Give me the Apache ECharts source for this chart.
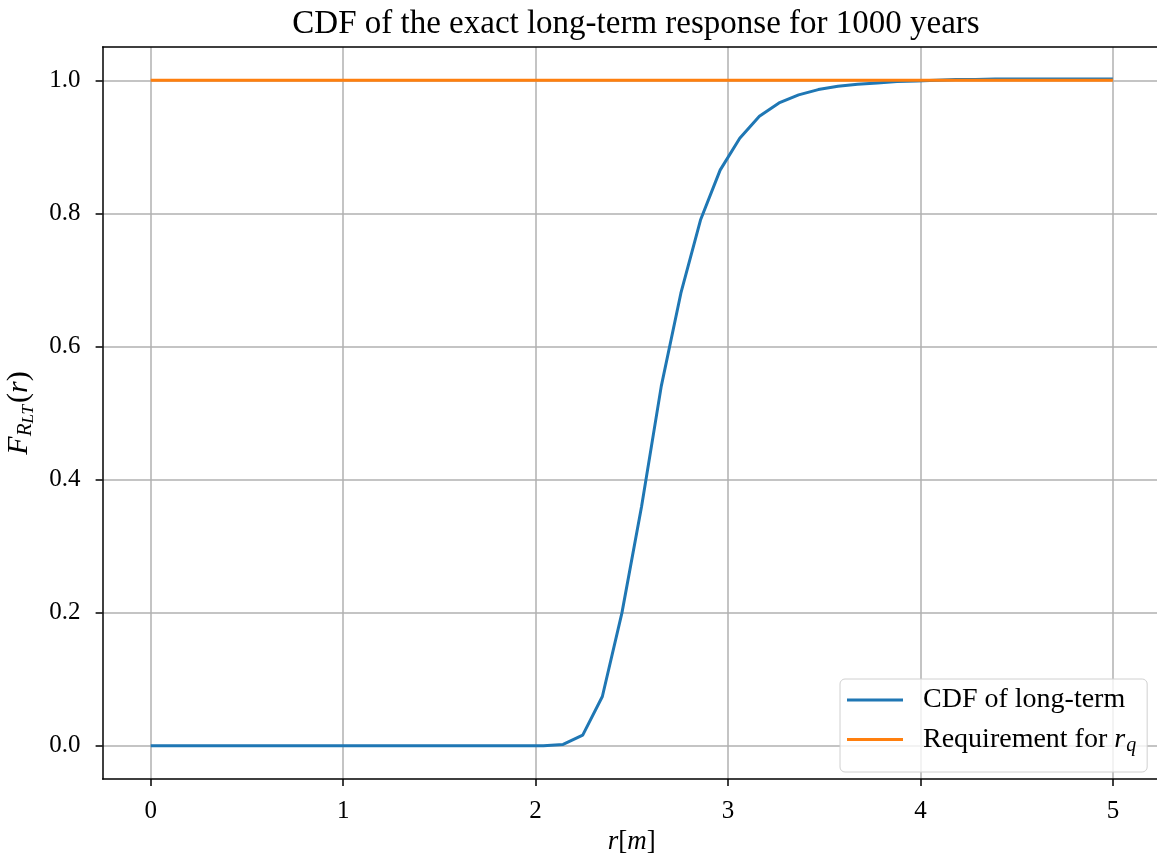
<!DOCTYPE html>
<html>
<head>
<meta charset="utf-8">
<title>CDF long-term</title>
<script src="https://cdn.jsdelivr.net/npm/echarts@6/dist/echarts.min.js"></script>
<style>
  html, body { margin: 0; padding: 0; background: #fff; }
  #cdfChart { width: 1157px; height: 859px; }
</style>
</head>
<body>
<div id="cdfChart"></div>
<script>
  // sample points r (m)
  let rValues = [0, 0.102, 0.204, 0.306, 0.408, 0.510, 0.612, 0.714, 0.816, 0.918,
    1.020, 1.122, 1.224, 1.327, 1.429, 1.531, 1.633, 1.735, 1.837, 1.939,
    2.041, 2.143, 2.245, 2.347, 2.449, 2.551, 2.653, 2.755, 2.857, 2.959,
    3.061, 3.163, 3.265, 3.367, 3.469, 3.571, 3.673, 3.776, 3.878, 3.980,
    4.082, 4.184, 4.286, 4.388, 4.490, 4.592, 4.694, 4.796, 4.898, 5.0];
  // CDF of the long-term response
  let cdfValues = [0, 0, 0, 0, 0, 0, 0, 0, 0, 0,
    0, 0, 0, 0, 0, 0, 0, 0, 0, 0,
    0, 0.002, 0.016, 0.074, 0.200, 0.360, 0.540, 0.680, 0.790, 0.865,
    0.913, 0.946, 0.966, 0.978, 0.986, 0.991, 0.994, 0.996, 0.998, 0.999,
    1.000, 1.001, 1.001, 1.002, 1.002, 1.002, 1.002, 1.002, 1.002, 1.002];
  // requirement line
  let reqX = [0, 5];
  let reqY = [1.0, 1.0];

  let xTicks = [0, 1, 2, 3, 4, 5];
  let yTicks = [0.0, 0.2, 0.4, 0.6, 0.8, 1.0];

  let serif = 'Liberation Serif';

  let cdfData = rValues.map((r, i) => [r, cdfValues[i]]);
  let reqData = reqX.map((r, i) => [r, reqY[i]]);

  let chart = echarts.init(document.getElementById('cdfChart'), null, {renderer: 'canvas'});
  chart.setOption({
    animation: false,
    backgroundColor: '#fff',
    title: {
      text: 'CDF of the exact long-term response for 1000 years',
      left: 631,
      top: 3,
      textAlign: 'center',
      textStyle: {fontFamily: serif, fontWeight: 'normal', fontSize: 33, color: '#000'}
    },
    grid: {left: 102.6, right: -4, top: 47, bottom: 80, containLabel: false, outerBoundsMode: 'none'},
    legend: {
      orient: 'vertical',
      left: 840,
      top: 679,
      icon: 'rect',
      itemWidth: 56,
      itemHeight: 3,
      itemGap: 9,
      padding: [7, 11, 16, 7],
      backgroundColor: 'rgba(255,255,255,0.8)',
      borderColor: '#d0d0d0',
      borderWidth: 1,
      borderRadius: 5,
      data: ['CDF of long-term', 'Requirement for r_q'],
      formatter: function (name) {
        if (name === 'Requirement for r_q') {
          return '{n|Requirement for }{i|r}{s|q}';
        }
        return '{n|' + name + '}';
      },
      textStyle: {
        fontFamily: serif, fontSize: 28, color: '#000', padding: [0, 0, 0, 15],
        rich: {
          n: {fontFamily: serif, fontSize: 28, lineHeight: 24, color: '#000'},
          i: {fontFamily: serif, fontSize: 28, fontStyle: 'italic', lineHeight: 24, color: '#000'},
          s: {fontFamily: serif, fontSize: 20, fontStyle: 'italic', lineHeight: 24, color: '#000', padding: [13, 0, 0, 1]}
        }
      }
    },
    xAxis: [{
      type: 'value',
      min: -0.25,
      max: 5.25,
      name: '{i|r}{n|[}{i|m}{n|]}',
      nameLocation: 'middle',
      nameGap: 48,
      nameTextStyle: {
        rich: {
          i: {fontFamily: serif, fontSize: 27, fontStyle: 'italic', color: '#000'},
          n: {fontFamily: serif, fontSize: 27, color: '#000'}
        }
      },
      axisLine: {show: true, onZero: false, lineStyle: {color: '#000', width: 1.5}},
      axisTick: {show: true, inside: false, length: 7, customValues: xTicks, lineStyle: {color: '#000', width: 1.5}},
      axisLabel: {
        customValues: xTicks, margin: 20, color: '#000',
        fontFamily: serif, fontSize: 25,
        formatter: function (v) { return String(v); }
      },
      splitLine: {show: true, lineStyle: {color: '#b0b0b0', width: 1.5}}
    }, {
      // top spine
      type: 'value',
      position: 'top',
      min: -0.25,
      max: 5.25,
      axisLine: {show: true, onZero: false, lineStyle: {color: '#000', width: 1.5}},
      axisTick: {show: false},
      axisLabel: {show: false},
      splitLine: {show: false}
    }],
    yAxis: {
      type: 'value',
      min: -0.05,
      max: 1.05,
      name: '{f|F}{s|R}{ss|LT}{n|(}{f|r}{n|)}',
      nameLocation: 'middle',
      nameGap: 66,
      nameRotate: 90,
      nameTextStyle: {
        rich: {
          f: {fontFamily: serif, fontSize: 30, fontStyle: 'italic', color: '#000', lineHeight: 34},
          n: {fontFamily: serif, fontSize: 30, color: '#000', lineHeight: 34},
          s: {fontFamily: serif, fontSize: 21, fontStyle: 'italic', color: '#000', lineHeight: 34, padding: [12, 0, 0, 0]},
          ss: {fontFamily: serif, fontSize: 17, fontStyle: 'italic', color: '#000', lineHeight: 34, padding: [18, 2, 0, 0]}
        }
      },
      axisLine: {show: true, onZero: false, lineStyle: {color: '#000', width: 1.5}},
      axisTick: {show: true, inside: false, length: 7, customValues: yTicks, lineStyle: {color: '#000', width: 1.5}},
      axisLabel: {
        customValues: yTicks, margin: 22, color: '#000',
        fontFamily: serif, fontSize: 25,
        formatter: function (v) { return v.toFixed(1); }
      },
      splitLine: {show: true, lineStyle: {color: '#b0b0b0', width: 1.5}}
    },
    series: [
      {
        name: 'CDF of long-term',
        type: 'line',
        data: cdfData,
        symbol: 'none',
        color: '#1f77b4',
        lineStyle: {width: 3, color: '#1f77b4'},
        z: 2
      },
      {
        name: 'Requirement for r_q',
        type: 'line',
        data: reqData,
        symbol: 'none',
        color: '#ff7f0e',
        lineStyle: {width: 3, color: '#ff7f0e'},
        z: 3
      }
    ]
  });
</script>
</body>
</html>
